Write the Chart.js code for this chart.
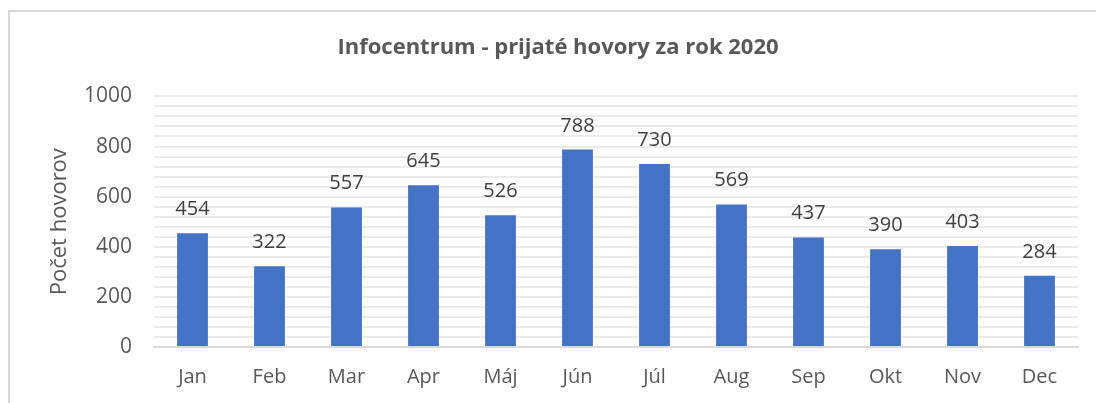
<!DOCTYPE html>
<html>
<head>
<meta charset="utf-8">
<script src="https://cdn.jsdelivr.net/npm/chart.js@4/dist/chart.umd.min.js"></script>
<style>
  html, body { margin: 0; padding: 0; background: #fff; overflow: hidden; }
  .frame {
    position: absolute; left: 8px; top: 10px; width: 1200px; height: 500px;
    border-left: 2px solid #d9d9d9; border-top: 2px solid #d9d9d9;
  }
  .wrap { position: absolute; left: 0; top: 0; width: 1096px; height: 403px; }
</style>
</head>
<body>
<div class="frame"></div>
<div class="wrap"><canvas id="callsChart" width="1096" height="403"></canvas></div>
<script>
const months = ['Jan', 'Feb', 'Mar', 'Apr', 'Máj', 'Jún', 'Júl', 'Aug', 'Sep', 'Okt', 'Nov', 'Dec'];
const calls = [454, 322, 557, 645, 526, 788, 730, 569, 437, 390, 403, 284];
const yMax = 1000;
const yLabelStep = 200;
const yGridStep = 40;

// value labels above every bar
const barLabels = {
  id: 'barLabels',
  afterDatasetsDraw(chart) {
    const ctx = chart.ctx;
    const meta = chart.getDatasetMeta(0);
    ctx.save();
    ctx.font = '20px "Open Sans"';
    ctx.fillStyle = '#404040';
    ctx.textAlign = 'center';
    ctx.textBaseline = 'alphabetic';
    meta.data.forEach((bar, i) => {
      ctx.fillText(String(calls[i]), bar.x, bar.y - 18);
    });
    ctx.restore();
  }
};

const ctx = document.getElementById('callsChart').getContext('2d');
new Chart(ctx, {
  type: 'bar',
  data: {
    labels: months,
    datasets: [{
      label: 'Počet hovorov',
      data: calls,
      backgroundColor: '#4472C4',
      categoryPercentage: 1,
      barPercentage: 0.4
    }]
  },
  options: {
    responsive: false,
    animation: false,
    layout: { padding: { left: 38, right: 18, top: 0, bottom: 0 } },
    scales: {
      x: {
        grid: { display: false, drawTicks: false },
        border: { color: '#d9d9d9', width: 2 },
        ticks: { color: '#595959', font: { family: 'Open Sans', size: 20 }, padding: 18 },
        afterFit: (s) => { s.height = 56; }
      },
      y: {
        min: 0,
        max: yMax,
        grid: { color: '#ebebeb', lineWidth: 2, drawTicks: false },
        border: { display: false },
        ticks: {
          stepSize: yGridStep,
          autoSkip: false,
          color: '#595959',
          font: { family: 'Open Sans', size: 21 },
          padding: 22,
          callback: (v) => (v % yLabelStep === 0 ? v : '')
        },
        title: {
          display: true,
          text: 'Počet hovorov',
          color: '#595959',
          font: { family: 'Open Sans', size: 22 },
          padding: { top: 9, bottom: 0 }
        },
        afterFit: (s) => { s.width = 116; }
      }
    },
    plugins: {
      legend: { display: false },
      tooltip: { enabled: false },
      title: {
        display: true,
        text: 'Infocentrum - prijaté hovory za rok 2020',
        color: '#595959',
        font: { family: 'Open Sans', size: 22, weight: 'bold' },
        padding: { top: 35, bottom: 35 }
      }
    }
  },
  plugins: [barLabels]
});
</script>
</body>
</html>
